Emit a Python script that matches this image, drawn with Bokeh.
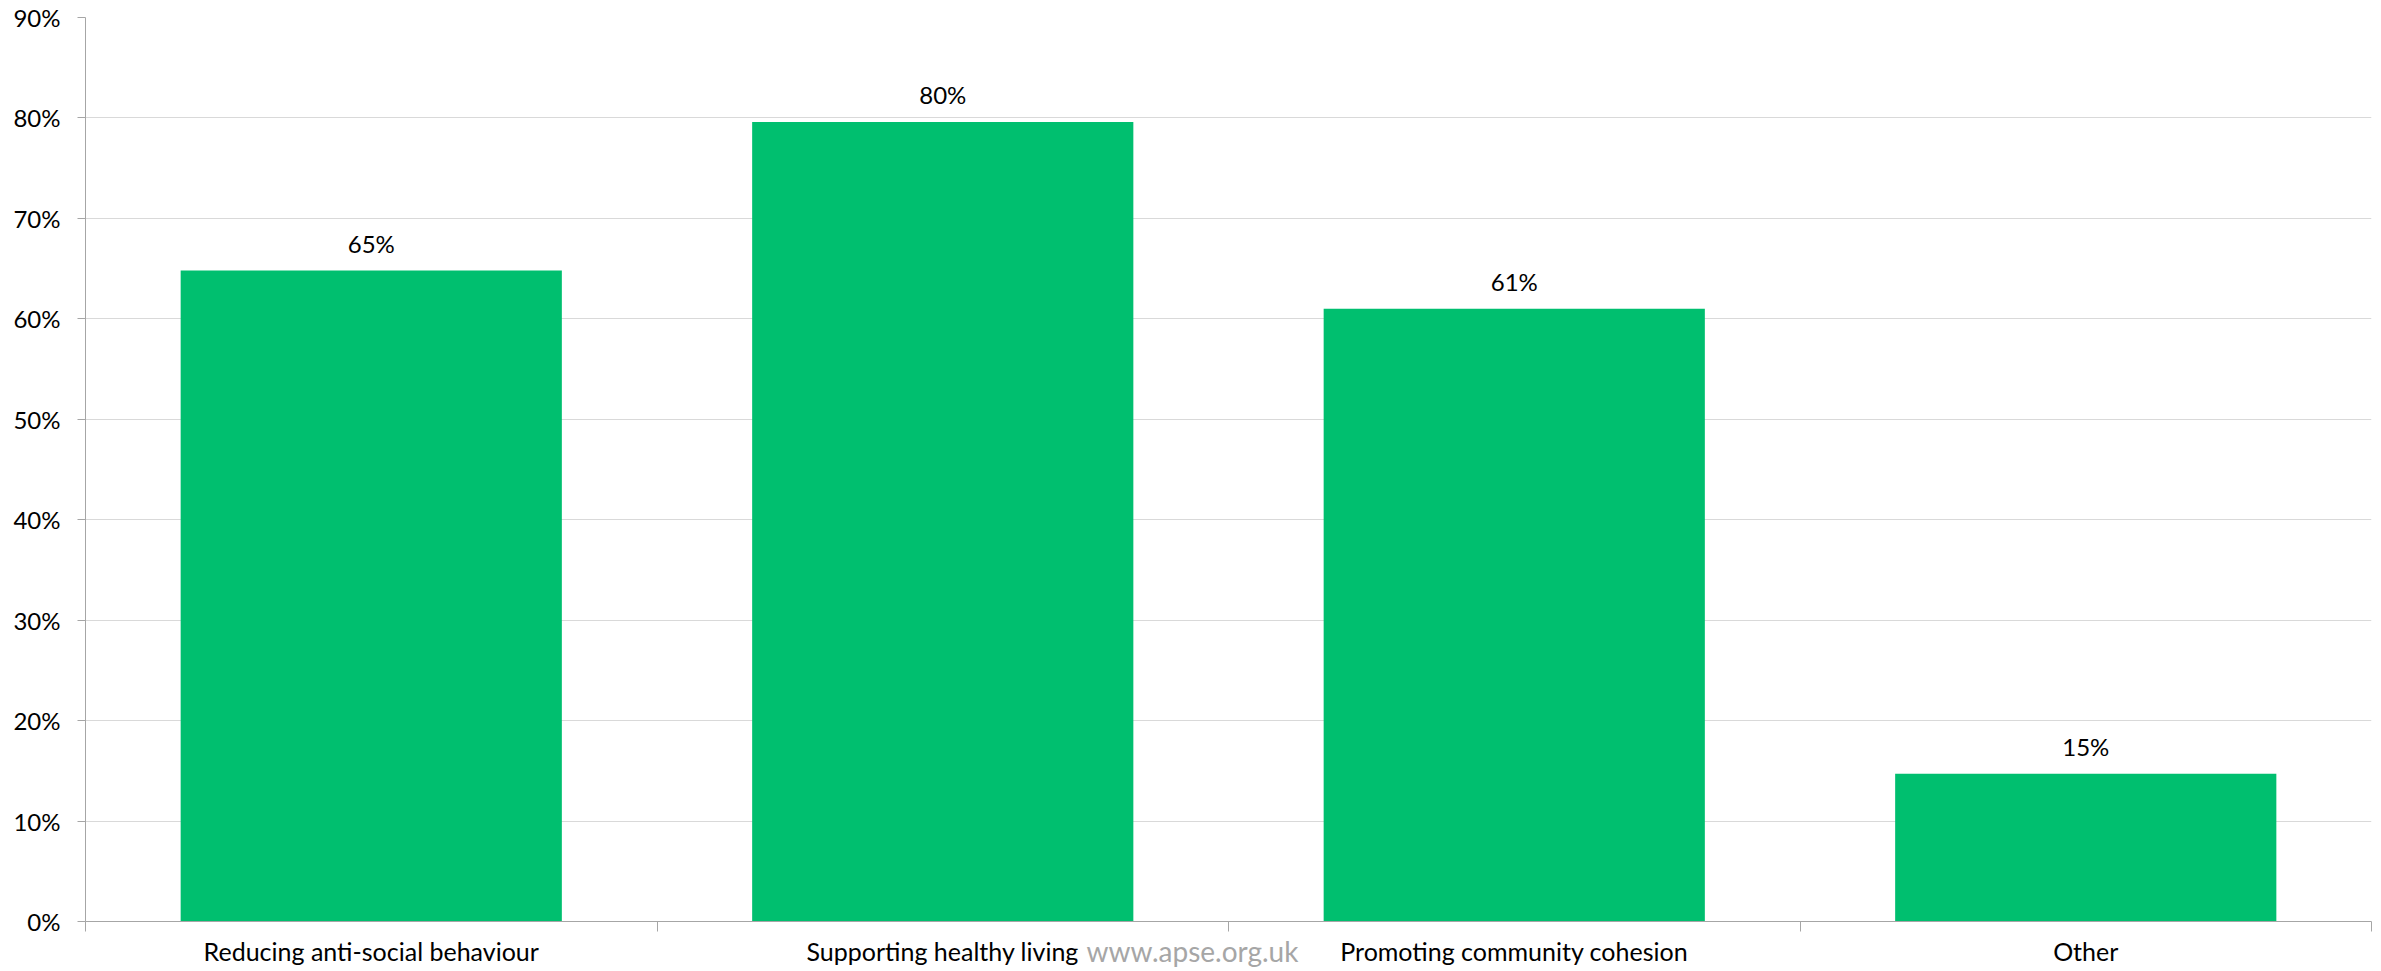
from bokeh.plotting import figure
from bokeh.models import (Range1d, FixedTicker, NumeralTickFormatter, ColumnDataSource,
                          LinearAxis)
from bokeh.core.properties import value
from bokeh.embed import file_html
from bokeh.resources import INLINE

categories = ["Reducing anti-social behaviour", "Supporting healthy living",
              "Promoting community cohesion", "Other"]
values = [0.648, 0.796, 0.610, 0.147]
y_ticks = [0.0, 0.1, 0.2, 0.3, 0.4, 0.5, 0.6, 0.7, 0.8, 0.9]
watermark = "www.apse.org.uk"
watermark_x = 1.937

FONT = "Lato"
GREEN = "#00BF6F"
AXIS = "#A6A6A6"
GRID = "#D9D9D9"

xs = [i + 0.5 for i in range(len(categories))]
labels = [f"{round(v * 100)}%" for v in values]
src = ColumnDataSource(dict(x=xs, top=values, label=labels))

p = figure(width=2381, height=971, x_range=Range1d(0, len(categories)),
           y_range=Range1d(0, 0.9), output_backend="svg", toolbar_location=None,
           min_border_left=85, min_border_right=10, min_border_top=17,
           min_border_bottom=50, background_fill_color="white",
           border_fill_color="white")
p.outline_line_color = None

p.vbar(x="x", top="top", width=0.667, bottom=0, source=src,
       fill_color=GREEN, line_color=None)
p.text(x="x", y="top", text="label", source=src, text_align="center",
       text_baseline="middle", y_offset=-27, text_font=value(FONT),
       text_font_size="24px", text_color="#000000")

# y axis
p.yaxis.ticker = FixedTicker(ticks=y_ticks)
p.yaxis.formatter = NumeralTickFormatter(format="0%")
p.yaxis.major_tick_out = 8
p.yaxis.major_tick_in = 0
p.yaxis.minor_tick_line_color = None
p.yaxis.axis_line_color = AXIS
p.yaxis.major_tick_line_color = AXIS
p.yaxis.major_label_text_font = FONT
p.yaxis.major_label_text_font_size = "24px"
p.yaxis.major_label_text_color = "#000000"
p.yaxis.major_label_standoff = 17

# x axis
p.xaxis.ticker = FixedTicker(ticks=xs, minor_ticks=list(range(len(categories) + 1)))
p.xaxis.major_label_overrides = {x: c for x, c in zip(xs, categories)}
p.xaxis.major_tick_out = 0
p.xaxis.major_tick_in = 0
p.xaxis.minor_tick_out = 10
p.xaxis.minor_tick_in = 0
p.xaxis.minor_tick_line_color = AXIS
p.xaxis.axis_line_color = AXIS
p.xaxis.major_label_text_font = FONT
p.xaxis.major_label_text_font_size = "25px"
p.xaxis.major_label_text_color = "#000000"
p.xaxis.major_label_standoff = 4

# watermark as a second, line-less axis whose single label sits under the plot
wm = LinearAxis(ticker=FixedTicker(ticks=[watermark_x], minor_ticks=[]),
                major_label_overrides={watermark_x: watermark},
                axis_line_color=None, major_tick_line_color=None,
                minor_tick_line_color=None, major_tick_out=0, major_tick_in=0,
                major_label_standoff=-35, major_label_text_font=FONT,
                major_label_text_font_size="28px",
                major_label_text_color="#A6A6A6")
p.add_layout(wm, "below")

p.xgrid.grid_line_color = None
p.ygrid.grid_line_color = GRID
p.ygrid.grid_line_width = 1

open("out.html", "w").write(file_html(p, INLINE))
